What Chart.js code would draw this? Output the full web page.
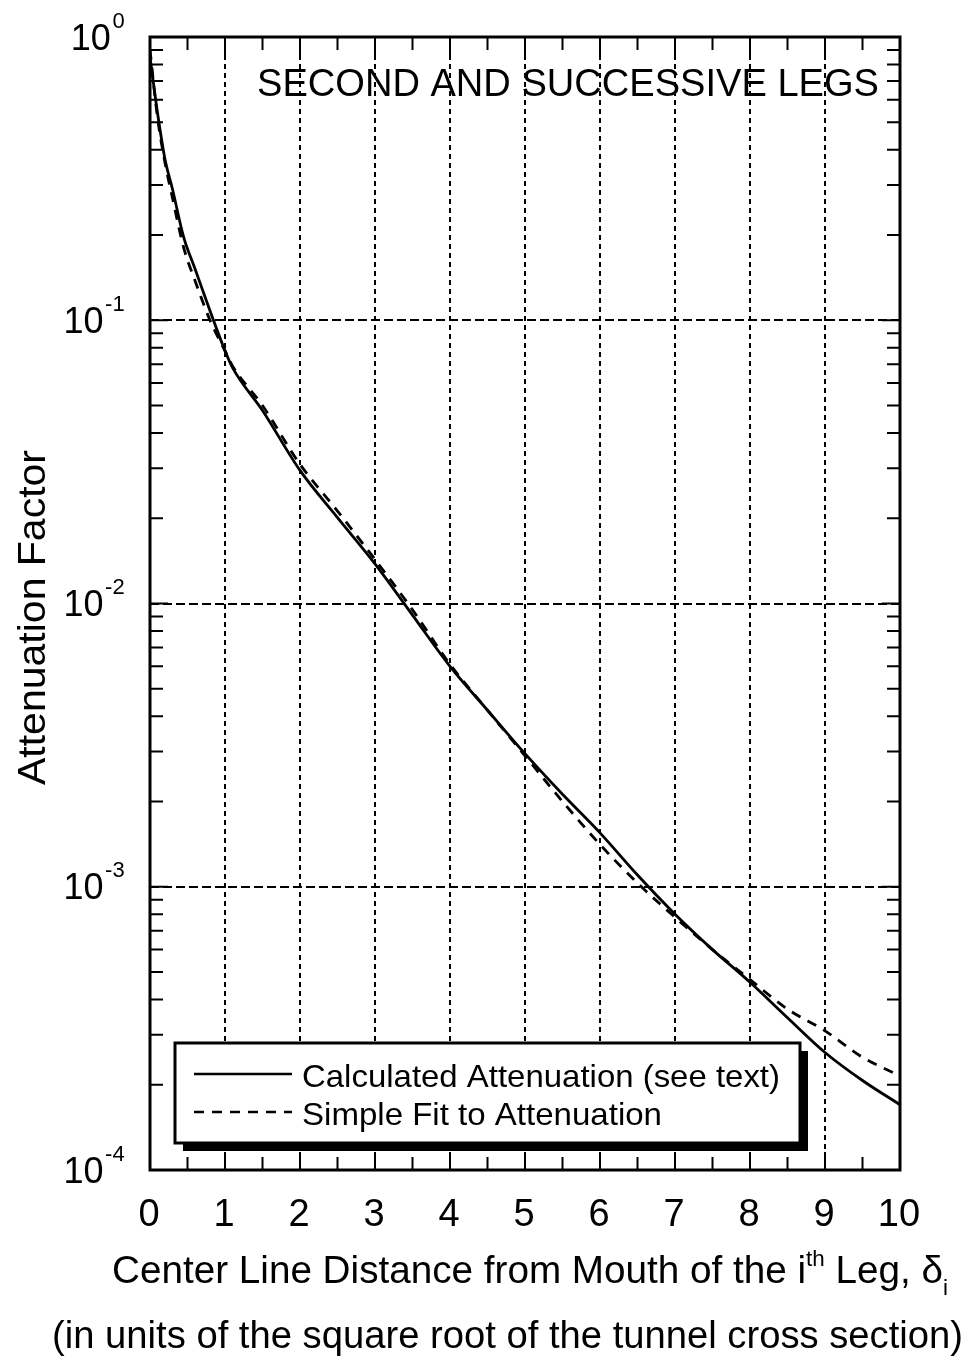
<!DOCTYPE html>
<html lang="en">
<head>
<meta charset="UTF-8">
<title>Attenuation Factor - Second and Successive Legs</title>
<script src="https://cdn.jsdelivr.net/npm/chart.js"></script>
<style>
  html, body { margin: 0; padding: 0; background: #fff; }
  #wrap { width: 976px; height: 1360px; }
</style>
</head>
<body>
<div id="wrap"><canvas id="attChart" width="976" height="1360"></canvas></div>
<script>
// distance along the leg (units of sqrt of tunnel cross section)
const distance = [0, 0.1, 0.2, 0.3, 0.45, 0.6, 0.8, 1.0, 1.1, 1.5, 2.0, 2.5, 3.0, 3.5, 4.0, 4.5, 5.0, 5.5, 6.0, 6.5, 7.0, 7.5, 8.0, 8.5, 9.0, 9.5, 10];
// calculated attenuation (solid)
const calculated = [0.85, 0.54, 0.37, 0.29, 0.196, 0.152, 0.108, 0.078, 0.068, 0.048, 0.0295, 0.0201, 0.0138, 0.0091, 0.0060, 0.0042, 0.00295, 0.00212, 0.00155, 0.00110, 0.00080, 0.00060, 0.00046, 0.000345, 0.00026, 0.000207, 0.00017];
// simple fit (dashed)
const simpleFit = [0.9, 0.52, 0.36, 0.27, 0.18, 0.138, 0.1, 0.078, 0.069, 0.05, 0.031, 0.0212, 0.0143, 0.0095, 0.0061, 0.0042, 0.0029, 0.00200, 0.00141, 0.00103, 0.00078, 0.00060, 0.00047, 0.00037, 0.00031, 0.00025, 0.000215];

const xTicks = [0, 1, 2, 3, 4, 5, 6, 7, 8, 9, 10];
const yDecades = [0, -1, -2, -3, -4];
const seriesLabels = ['Calculated Attenuation (see text)', 'Simple Fit to Attenuation'];
const plotTitle = 'SECOND AND SUCCESSIVE LEGS';

const FONT = 'Liberation Sans, Arial, Helvetica, sans-serif';

function toPoints(ys) {
  return distance.map((d, i) => ({ x: d, y: ys[i] }));
}

// draw text squeezed/stretched horizontally to a target width
function fitText(ctx, str, x, y, size, width, align) {
  ctx.save();
  ctx.font = size + 'px ' + FONT;
  const w = ctx.measureText(str).width;
  const s = width / w;
  let left = x;
  if (align === 'center') left = x - width / 2;
  if (align === 'right') left = x - width;
  ctx.translate(left, y);
  ctx.scale(s, 1);
  ctx.textAlign = 'left';
  ctx.textBaseline = 'alphabetic';
  ctx.fillText(str, 0, 0);
  ctx.restore();
}

// pieces: [text, size, dy]
function drawPieces(ctx, pieces, x, y, width) {
  ctx.save();
  let total = 0;
  pieces.forEach(p => { ctx.font = p[1] + 'px ' + FONT; total += ctx.measureText(p[0]).width; });
  const s = width ? width / total : 1;
  ctx.translate(x, y);
  ctx.scale(s, 1);
  ctx.textAlign = 'left';
  ctx.textBaseline = 'alphabetic';
  let cx = 0;
  pieces.forEach(p => {
    ctx.font = p[1] + 'px ' + FONT;
    ctx.fillText(p[0], cx, p[2]);
    cx += ctx.measureText(p[0]).width;
  });
  ctx.restore();
  return total * s;
}

const decorPlugin = {
  id: 'decor',
  afterDraw(chart) {
    const ctx = chart.ctx;
    const a = chart.chartArea;
    const xs = chart.scales.x, ys = chart.scales.y;
    ctx.save();
    ctx.fillStyle = '#000';
    ctx.strokeStyle = '#000';

    // inward ticks
    ctx.lineWidth = 2;
    ctx.beginPath();
    for (let v = 0; v <= 10; v += 0.5) {
      const px = xs.getPixelForValue(v);
      const len = Number.isInteger(v) ? 18 : 13;
      ctx.moveTo(px, a.bottom); ctx.lineTo(px, a.bottom - len);
      ctx.moveTo(px, a.top); ctx.lineTo(px, a.top + len);
    }
    for (let e = -4; e < 0; e++) {
      for (let m = 1; m <= 9; m++) {
        const py = ys.getPixelForValue(m * Math.pow(10, e));
        const len = m === 1 ? 18 : 13;
        ctx.moveTo(a.left, py); ctx.lineTo(a.left + len, py);
        ctx.moveTo(a.right, py); ctx.lineTo(a.right - len, py);
      }
    }
    ctx.stroke();

    // frame
    ctx.lineWidth = 3;
    ctx.strokeRect(a.left, a.top, a.right - a.left, a.bottom - a.top);

    // x tick labels
    ctx.font = '38px ' + FONT;
    ctx.textAlign = 'center';
    ctx.textBaseline = 'alphabetic';
    xTicks.forEach(v => ctx.fillText(String(v), xs.getPixelForValue(v) - 1, 1226));

    // y tick labels 10^n
    yDecades.forEach(e => {
      const py = ys.getPixelForValue(Math.pow(10, e));
      const sup = String(e);
      ctx.font = '22px ' + FONT;
      const sw = ctx.measureText(sup).width;
      ctx.font = '36px ' + FONT;
      const mw = ctx.measureText('10').width;
      const x0 = 125 - sw - mw - 2;
      drawPieces(ctx, [['10', 36, 0], [' ', 6, 0], [sup, 22, -22]], x0, py + 12.5);
    });

    // axis titles
    drawPieces(ctx, [
      ['Center Line Distance from Mouth of the i', 38, 0],
      ['th', 22, -17],
      [' Leg, \u03b4', 38, 0],
      ['i', 22, 12]
    ], 112, 1283, 836);
    fitText(ctx, '(in units of the square root of the tunnel cross section)', 52, 1348, 38, 911, 'left');

    ctx.save();
    ctx.translate(45, 785);
    ctx.rotate(-Math.PI / 2);
    fitText(ctx, 'Attenuation Factor', 0, 0, 39, 335, 'left');
    ctx.restore();

    // title inside the plot
    fitText(ctx, plotTitle, 257, 96, 38, 622, 'left');

    // legend box with shadow
    const lx = 175, ly = 1043, lw = 625, lh = 100;
    ctx.fillRect(lx + 8, ly + 8, lw, lh);
    ctx.fillStyle = '#fff';
    ctx.fillRect(lx, ly, lw, lh);
    ctx.lineWidth = 3;
    ctx.strokeRect(lx, ly, lw, lh);
    chart.data.datasets.forEach((ds, i) => {
      const yy = i === 0 ? 1074 : 1112;
      ctx.save();
      ctx.strokeStyle = ds.borderColor;
      ctx.lineWidth = 2.5;
      ctx.setLineDash(ds.borderDash || []);
      ctx.beginPath();
      ctx.moveTo(194, yy); ctx.lineTo(292, yy);
      ctx.stroke();
      ctx.restore();
      ctx.fillStyle = '#000';
      fitText(ctx, ds.label, 302, i === 0 ? 1087 : 1125, 32, i === 0 ? 478 : 360, 'left');
    });
    ctx.restore();
  }
};

const ctx = document.getElementById('attChart').getContext('2d');
new Chart(ctx, {
  type: 'line',
  data: {
    datasets: [
      {
        label: seriesLabels[0],
        data: toPoints(calculated),
        borderColor: '#000',
        borderWidth: 2.8,
        pointRadius: 0,
        fill: false,
        cubicInterpolationMode: 'monotone'
      },
      {
        label: seriesLabels[1],
        data: toPoints(simpleFit),
        borderColor: '#000',
        borderWidth: 2.8,
        borderDash: [10, 8],
        pointRadius: 0,
        fill: false,
        cubicInterpolationMode: 'monotone'
      }
    ]
  },
  options: {
    responsive: false,
    animation: false,
    layout: { padding: { left: 150, right: 76, top: 37, bottom: 190 } },
    plugins: { legend: { display: false }, tooltip: { enabled: false } },
    scales: {
      x: {
        type: 'linear',
        min: 0,
        max: 10,
        ticks: { display: false, stepSize: 1 },
        grid: {
          drawTicks: false,
          lineWidth: 2,
          color: c => (c.tick && (c.tick.value === 0 || c.tick.value === 10)) ? 'rgba(0,0,0,0)' : '#000'
        },
        border: { display: false, dash: [5, 4] }
      },
      y: {
        type: 'logarithmic',
        min: 1e-4,
        max: 1,
        afterBuildTicks: scale => {
          scale.ticks = yDecades.map(e => ({ value: Math.pow(10, e) }));
        },
        ticks: { display: false },
        grid: {
          drawTicks: false,
          lineWidth: 2,
          color: c => (c.tick && (c.tick.value === 1 || c.tick.value === 1e-4)) ? 'rgba(0,0,0,0)' : '#000'
        },
        border: { display: false, dash: [9, 4] }
      }
    }
  },
  plugins: [decorPlugin]
});
</script>
</body>
</html>
